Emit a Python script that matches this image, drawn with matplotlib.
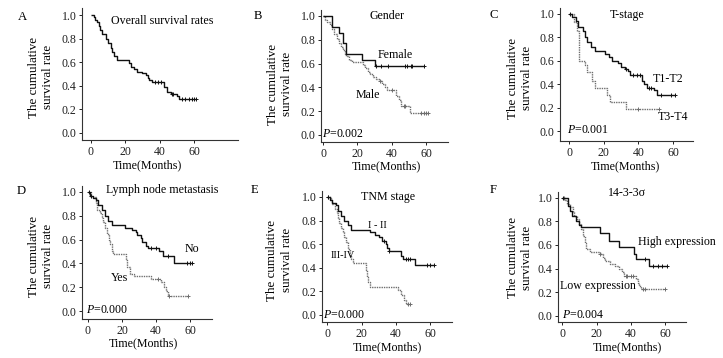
import matplotlib
matplotlib.use("Agg")
import matplotlib.pyplot as plt

plt.rcParams['font.family'] = ['Liberation Serif', 'DejaVu Serif']
plt.rcParams['mathtext.fontset'] = 'custom'
plt.rcParams['mathtext.rm'] = 'Liberation Serif'
plt.rcParams['mathtext.it'] = 'Liberation Serif:italic'

W, H = 723, 358

# ---------------- data ----------------
xticks = [0, 20, 40, 60]
yticks = [0.0, 0.2, 0.4, 0.6, 0.8, 1.0]
ytick_labels = ["0.0", "0.2", "0.4", "0.6", "0.8", "1.0"]

# A overall
A_t = [0, 1.5, 2.5, 3.5, 4.5, 5.5, 6.5, 9, 10, 11.5, 12.5, 13.5, 15, 22, 23.5, 25, 27, 30, 32, 33, 34, 35.5, 42.5, 44, 46.5, 50, 51.5]
A_s = [1.0, 0.98, 0.96, 0.94, 0.91, 0.87, 0.84, 0.80, 0.76, 0.72, 0.69, 0.65, 0.62, 0.59, 0.56, 0.54, 0.52, 0.51, 0.49, 0.47, 0.45, 0.43, 0.39, 0.35, 0.33, 0.31, 0.29]
A_end = 61
A_cens = [37, 39, 41, 47, 48, 53, 55, 57, 59, 60, 61]

# B gender
Bf_t = [0, 5.5, 9.5, 11.8, 13.2, 22.5, 30]
Bf_s = [1.0, 0.91, 0.86, 0.77, 0.68, 0.63, 0.58]
Bf_end = 59
Bf_cens = [31, 34, 38, 48, 49, 51, 52, 59]
Bm_t = [0, 1, 2.5, 4, 5, 6.5, 8, 9.5, 10.5, 11.5, 12.5, 13.5, 15, 17, 23, 24.5, 26, 27.5, 29, 31, 33, 34.5, 36, 37, 42.5, 44, 45.5, 50.5]
Bm_s = [1.0, 0.97, 0.95, 0.92, 0.89, 0.85, 0.81, 0.77, 0.74, 0.71, 0.68, 0.66, 0.63, 0.61, 0.59, 0.56, 0.53, 0.51, 0.49, 0.47, 0.45, 0.43, 0.40, 0.38, 0.33, 0.29, 0.24, 0.18]
Bm_end = 61
Bm_cens = [33, 40, 47, 48, 57, 59, 60, 61]

# C T-stage
Ct1_t = [0, 2, 4, 5, 8, 9, 10.5, 12.5, 15, 21, 23, 25, 28, 30, 32, 34, 35, 42, 43, 45, 49, 51]
Ct1_s = [1.0, 0.97, 0.94, 0.89, 0.85, 0.80, 0.76, 0.72, 0.68, 0.66, 0.63, 0.60, 0.58, 0.55, 0.53, 0.51, 0.48, 0.43, 0.40, 0.37, 0.35, 0.31]
Ct1_end = 61
Ct1_cens = [0.5, 33, 37, 39, 41, 46, 47, 53, 59, 61]
Ct3_t = [0, 3, 4.5, 5.5, 9, 10.5, 13, 15, 22, 23.5, 33]
Ct3_s = [1.0, 0.93, 0.85, 0.60, 0.56, 0.50, 0.43, 0.37, 0.31, 0.25, 0.19]
Ct3_end = 52
Ct3_cens = [40, 52]

# D lymph node
Dn_t = [0, 1, 3, 5, 6, 8, 10, 12, 14, 22, 26, 28, 29, 31, 32, 34, 35, 42, 44, 50.5]
Dn_s = [1.0, 0.97, 0.95, 0.93, 0.89, 0.85, 0.80, 0.76, 0.72, 0.70, 0.68, 0.66, 0.64, 0.61, 0.58, 0.55, 0.53, 0.50, 0.46, 0.40]
Dn_end = 61
Dn_cens = [0.5, 2, 37, 40, 47, 58, 60, 61]
Dy_t = [0, 2, 5, 5.5, 7, 8, 9, 10, 11, 12.5, 13, 14, 15, 22.5, 23, 25, 27, 37, 43, 44.5, 46, 47]
Dy_s = [1.0, 0.96, 0.91, 0.85, 0.82, 0.78, 0.75, 0.70, 0.65, 0.60, 0.56, 0.50, 0.48, 0.43, 0.37, 0.31, 0.29, 0.27, 0.24, 0.20, 0.17, 0.13]
Dy_end = 59
Dy_cens = [41, 47.5, 59]

# E TNM
Ei_t = [0, 1.5, 3, 5, 6, 8, 10, 12, 14, 25, 28, 30, 32, 34, 35, 36, 43, 44, 51]
Ei_s = [1.0, 0.97, 0.95, 0.93, 0.88, 0.84, 0.80, 0.76, 0.72, 0.70, 0.68, 0.66, 0.63, 0.60, 0.57, 0.54, 0.50, 0.47, 0.42]
Ei_end = 62
Ei_cens = [0.5, 33, 36, 46, 47, 48, 58, 60, 62]
Eiii_t = [0, 2, 3, 4.5, 5.5, 6.5, 7, 8, 9, 10, 11, 12, 13, 14, 15, 22.5, 23, 24, 25, 41, 43, 44.5, 46]
Eiii_s = [1.0, 0.97, 0.94, 0.90, 0.86, 0.82, 0.78, 0.74, 0.70, 0.66, 0.62, 0.56, 0.50, 0.47, 0.44, 0.38, 0.32, 0.28, 0.24, 0.21, 0.17, 0.13, 0.09]
Eiii_end = 48
Eiii_cens = [0.5, 47, 48]

# F 14-3-3 sigma
Fh_t = [0, 3.5, 4.5, 5.5, 8, 10, 11, 22, 27.5, 33, 42, 43, 50.5]
Fh_s = [1.0, 0.93, 0.89, 0.85, 0.80, 0.77, 0.75, 0.70, 0.63, 0.58, 0.52, 0.48, 0.42]
Fh_end = 61
Fh_cens = [0.5, 48, 53, 56, 58, 61]
Fl_t = [0, 1.5, 3, 4.5, 6, 7, 8.5, 10, 11, 12, 13, 14, 16, 22, 23.5, 25, 28, 31, 33, 35, 36, 43, 44, 45, 46]
Fl_s = [1.0, 0.98, 0.95, 0.92, 0.88, 0.85, 0.82, 0.78, 0.74, 0.68, 0.62, 0.57, 0.54, 0.52, 0.49, 0.46, 0.44, 0.42, 0.40, 0.37, 0.34, 0.31, 0.28, 0.25, 0.23]
Fl_end = 60
Fl_cens = [1, 22, 37, 38, 40, 41, 47, 48, 60]

# ---------------- drawing ----------------
fig = plt.figure(figsize=(W / 100, H / 100), dpi=100)
fig.patch.set_facecolor('white')

SOLID = '#111111'
DOT = '#6e6e6e'
FS = 8.6


def surv_at(t_list, s_list, t):
    val = s_list[0]
    for tt, ss in zip(t_list, s_list):
        if tt <= t:
            val = ss
    return val


def km(ax, t, s, end, cens, color, dotted=False):
    ls = (0, (1, 0.7)) if dotted else '-'
    ax.step(list(t) + [end], list(s) + [s[-1]], where='post', color=color,
            lw=1.0, linestyle=ls, solid_capstyle='butt')
    cy = [surv_at(t, s, c) for c in cens]
    ax.plot(cens, cy, linestyle='none', marker='+', ms=2.6, mew=0.7, color=color)


def make_ax(l, r, top, bot, xlim, ylim):
    ax = fig.add_axes([l / W, 1 - bot / H, (r - l) / W, (bot - top) / H])
    ax.set_xlim(*xlim)
    ax.set_ylim(*ylim)
    for sp in ['top', 'right']:
        ax.spines[sp].set_visible(False)
    for sp in ['left', 'bottom']:
        ax.spines[sp].set_linewidth(0.8)
        ax.spines[sp].set_color('#333333')
    ax.set_xticks(xticks)
    ax.set_yticks(yticks)
    ax.set_yticklabels(ytick_labels)
    ax.tick_params(direction='out', length=2.5, width=0.7, labelsize=FS,
                   pad=1.5, colors='#222222')
    ax.patch.set_alpha(0)
    return ax


def ftext(x, y, s, **kw):
    fig.text(x / W, 1 - y / H, s, **kw)


def ylab(x, y):
    ftext(x, y, "The cumulative\nsurvival rate", rotation=90, ha='center',
          va='center', fontsize=9.4, linespacing=1.25)


def xlab(x, y):
    ftext(x, y, "Time(Months)", ha='center', va='center', fontsize=FS)


# Panel A
axA = make_ax(82, 238, 8, 140, (-5.2, 85.6), (-0.06, 1.06))
km(axA, A_t, A_s, A_end, A_cens, SOLID)
ftext(22, 17, "A", ha='center', va='center', fontsize=9.2)
ftext(162, 21, "Overall survival rates", ha='center', va='center', fontsize=FS)
ylab(41, 77)
xlab(147, 165)

# Panel B
axB = make_ax(321, 448, 10, 142, (-1.2, 72.8), (-0.06, 1.05))
km(axB, Bm_t, Bm_s, Bm_end, Bm_cens, DOT, dotted=True)
km(axB, Bf_t, Bf_s, Bf_end, Bf_cens, SOLID)
ftext(258, 16, "B", ha='center', va='center', fontsize=9.2)
ftext(387, 16, "Gender", ha='center', va='center', fontsize=FS)
ftext(395, 55, "Female", ha='center', va='center', fontsize=FS)
ftext(368, 95, "Male", ha='center', va='center', fontsize=FS)
ftext(322, 134, r"$P$=0.002", ha='left', va='center', fontsize=FS)
ylab(280, 84)
xlab(386, 166.5)

# Panel C
axC = make_ax(560, 693, 8, 141, (-5.2, 71.5), (-0.085, 1.05))
km(axC, Ct3_t, Ct3_s, Ct3_end, Ct3_cens, DOT, dotted=True)
km(axC, Ct1_t, Ct1_s, Ct1_end, Ct1_cens, SOLID)
ftext(494, 15, "C", ha='center', va='center', fontsize=9.2)
ftext(627, 15, "T-stage", ha='center', va='center', fontsize=FS)
ftext(668, 79, "T1-T2", ha='center', va='center', fontsize=FS)
ftext(673, 117, "T3-T4", ha='center', va='center', fontsize=FS)
ftext(567, 130, r"$P$=0.001", ha='left', va='center', fontsize=FS)
ylab(520, 78)
xlab(625, 166)

# Panel D
axD = make_ax(82, 212, 186, 319, (-3.5, 72.9), (-0.067, 1.05))
km(axD, Dy_t, Dy_s, Dy_end, Dy_cens, DOT, dotted=True)
km(axD, Dn_t, Dn_s, Dn_end, Dn_cens, SOLID)
ftext(21, 191, "D", ha='center', va='center', fontsize=9.2)
ftext(162, 190, "Lymph node metastasis", ha='center', va='center', fontsize=FS)
ftext(192, 249, "No", ha='center', va='center', fontsize=FS)
ftext(119, 278, "Yes", ha='center', va='center', fontsize=FS)
ftext(86, 310, r"$P$=0.000", ha='left', va='center', fontsize=FS)
ylab(41, 256)
xlab(143, 343)

# Panel E
axE = make_ax(322, 452, 191, 322, (-3.1, 72.8), (-0.06, 1.05))
km(axE, Eiii_t, Eiii_s, Eiii_end, Eiii_cens, DOT, dotted=True)
km(axE, Ei_t, Ei_s, Ei_end, Ei_cens, SOLID)
ftext(255, 190, "E", ha='center', va='center', fontsize=9.2)
ftext(388, 197, "TNM stage", ha='center', va='center', fontsize=FS)
ftext(377, 226, "I - II", ha='center', va='center', fontsize=7.4)
ftext(343, 256, "III-IV", ha='center', va='center', fontsize=7.4)
ftext(323, 315, r"$P$=0.000", ha='left', va='center', fontsize=FS)
ylab(279.5, 260)
xlab(387, 347)

# Panel F
axF = make_ax(558, 686, 192, 322, (-2.5, 72.2), (-0.054, 1.05))
km(axF, Fl_t, Fl_s, Fl_end, Fl_cens, DOT, dotted=True)
km(axF, Fh_t, Fh_s, Fh_end, Fh_cens, SOLID)
ftext(493, 190, "F", ha='center', va='center', fontsize=9.2)
ftext(627, 193, "14-3-3σ", ha='center', va='center', fontsize=FS)
ftext(677, 242, "High expression", ha='center', va='center', fontsize=FS)
ftext(598, 286, "Low expression", ha='center', va='center', fontsize=FS)
ftext(562, 315, r"$P$=0.004", ha='left', va='center', fontsize=FS)
ylab(520, 257.5)
xlab(627, 347)

fig.savefig("out.png", dpi=100, facecolor='white')
